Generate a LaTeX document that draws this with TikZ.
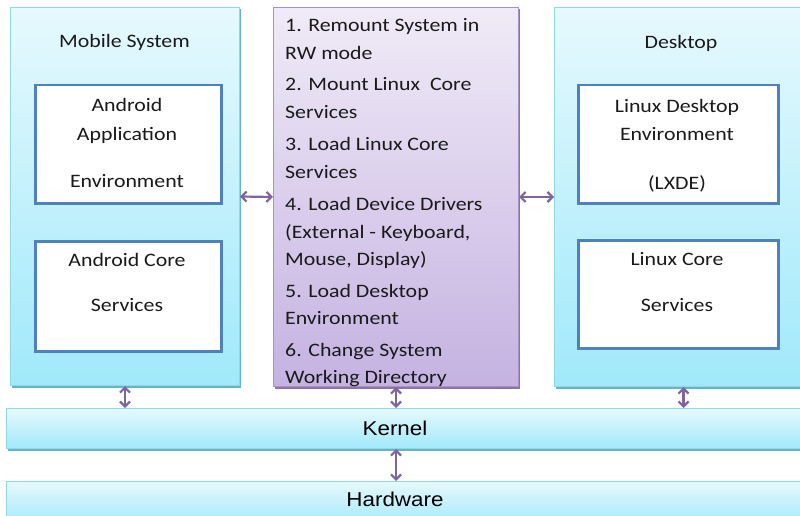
\documentclass[tikz,border=0pt]{standalone}
\usepackage{fontspec}
\setmainfont{Carlito}[FakeStretch=1.15]
\newfontfamily\arialf{Liberation Sans}[FakeStretch=1.12]
\usetikzlibrary{arrows.meta,shadows}
\definecolor{cyantop}{HTML}{E6F9FD}
\definecolor{cyanbot}{HTML}{A0E9FB}
\definecolor{cyanline}{HTML}{8ED8EA}
\definecolor{cyanshadow}{HTML}{66B4C6}
\definecolor{lavtop}{HTML}{F0EBF7}
\definecolor{lavbot}{HTML}{C5B2E1}
\definecolor{lavline}{HTML}{A890CC}
\definecolor{lavshadow}{HTML}{8A76A6}
\definecolor{innerblue}{HTML}{4F81BD}
\definecolor{arrowpurple}{HTML}{8064A2}
\definecolor{txt}{HTML}{1A1A1A}
\tikzset{
  cyanbox/.style={draw=cyanline, line width=1pt, top color=cyantop, bottom color=cyanbot,
    drop shadow={shadow xshift=1pt, shadow yshift=-2pt, fill=cyanshadow, opacity=1},
    anchor=north west, inner sep=0pt},
  lavbox/.style={draw=lavline, line width=1pt, top color=lavtop, bottom color=lavbot,
    drop shadow={shadow xshift=1.5pt, shadow yshift=-2pt, fill=lavshadow, opacity=1},
    anchor=north west, inner sep=0pt},
  innerbox/.style={draw=innerblue, line width=2.5pt, fill=white, anchor=north west, inner sep=0pt},
  lbl/.style={font=\fontsize{19}{23}\selectfont, text=txt, anchor=base, inner sep=0pt},
  mlbl/.style={font=\fontsize{19}{23}\selectfont, text=txt, anchor=base west, inner sep=0pt},
  klbl/.style={font=\arialf\fontsize{20}{24}\selectfont, text=black, inner sep=0pt},
  link/.style={draw=arrowpurple, line width=2.2pt, {Straight Barb[length=5pt,width=10pt]}-{Straight Barb[length=5pt,width=10pt]}}
}
\begin{document}
\begin{tikzpicture}[x=1pt,y=-1pt]
\useasboundingbox (0,0) rectangle (800,516);
% outer boxes
\node[cyanbox, minimum width=229pt, minimum height=378pt] (mobile) at (10,7) {};
\node[lavbox, minimum width=245pt, minimum height=379pt] (mid) at (273,7) {};
\node[cyanbox, minimum width=250pt, minimum height=379pt] (desk) at (554,7) {};
\node[cyanbox, minimum width=800pt, minimum height=40pt] (kernel) at (6,408) {};
\node[cyanbox, minimum width=800pt, minimum height=45pt] (hw) at (6,481) {};
% inner boxes
\node[innerbox, minimum width=186pt, minimum height=118pt] (aapp) at (34,84) {};
\node[innerbox, minimum width=186pt, minimum height=110pt] (acore) at (34,240) {};
\node[innerbox, minimum width=200pt, minimum height=118pt] (lde) at (577,84) {};
\node[innerbox, minimum width=200pt, minimum height=108pt] (lcore) at (577,239) {};
% labels left
\node[lbl] (tmob) at (124.5,48) {Mobile System};
\node[lbl] (ta1) at (127,112) {Android};
\node[lbl] (ta2) at (127,141) {Application};
\node[lbl] (ta3) at (127,187) {Environment};
\node[lbl] (tc1) at (127,266) {Android Core};
\node[lbl] (tc2) at (127,311) {Services};
% labels right
\node[lbl] (tdesk) at (681,49) {Desktop};
\node[lbl] (td1) at (677,113) {Linux Desktop};
\node[lbl] (td2) at (677,141) {Environment};
\node[lbl] (td3) at (677,189) {(LXDE)};
\node[lbl] (tl1) at (677,265) {Linux Core};
\node[lbl] (tl2) at (677,311) {Services};
% middle list
\node[mlbl] (m1) at (285,32) {1. Remount System in};
\node[mlbl] (m2) at (285,59.5) {RW mode};
\node[mlbl] (m3) at (285,91) {2. Mount Linux\ \ Core};
\node[mlbl] (m4) at (285,119) {Services};
\node[mlbl] (m5) at (285,150) {3. Load Linux Core};
\node[mlbl] (m6) at (285,178) {Services};
\node[mlbl] (m7) at (285,210) {4. Load Device Drivers};
\node[mlbl] (m8) at (285,238) {(External - Keyboard,};
\node[mlbl] (m9) at (285,265) {Mouse, Display)};
\node[mlbl] (m10) at (285,297) {5. Load Desktop};
\node[mlbl] (m11) at (285,324) {Environment};
\node[mlbl] (m12) at (285,356) {6. Change System};
\node[mlbl] (m13) at (285,383) {Working Directory};
% kernel / hardware labels
\node[klbl] (tk) at (395,428) {Kernel};
\node[klbl] (th) at (395,499) {Hardware};
% connectors
\draw[link] (mobile.east) -- (mid.west);
\draw[link] (mid.east) -- (desk.west |- mid.east);
\draw[link] (mobile.south) -- (mobile.south |- kernel.north);
\draw[link] (mid.south) -- (mid.south |- kernel.north);
\draw[link] ([xshift=4pt]desk.south) -- ([xshift=4pt]desk.south |- kernel.north);
\draw[link] (kernel.south -| mid.south) -- (hw.north -| mid.south);
\end{tikzpicture}
\end{document}
